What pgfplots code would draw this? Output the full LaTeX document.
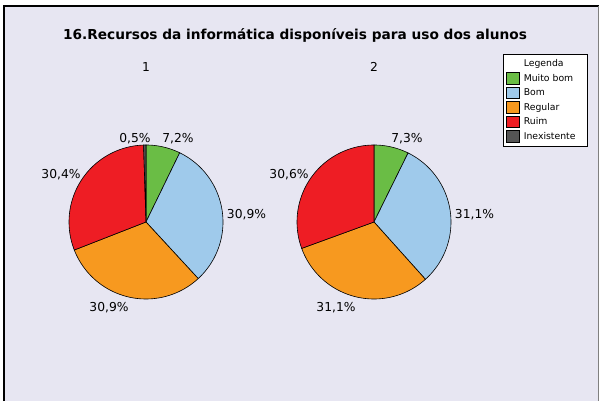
\documentclass[border=0pt]{standalone}
\usepackage{pgfplots}
\pgfplotsset{compat=1.18}
\usepackage{fontspec}
\setmainfont{DejaVu Sans}
\definecolor{bg}{HTML}{E7E6F2}
\definecolor{cgreen}{HTML}{6ABD45}
\definecolor{cblue}{HTML}{9FCAEB}
\definecolor{corange}{HTML}{F7991F}
\definecolor{cred}{HTML}{EE1D24}
\definecolor{cgray}{HTML}{555555}
% #1 centre x, #2 total of the pie, #3 start (cumulative %), #4 value (%), #5 colour, #6 extra
\newcommand\slice[6]{%
  \addplot[fill=#5, draw=black, line width=0.6bp, domain={#3}:{#3+#4}, samples=60, variable=\t, #6]
    ({#1+77*cos(90-360/#2*\t)}, {179+77*sin(90-360/#2*\t)}) -- (#1,179) -- cycle;
}
\newcommand\lbl{\fontsize{12.3bp}{14bp}\selectfont}
\begin{document}
\begin{tikzpicture}
\begin{axis}[
  scale only axis, width=601bp, height=401bp,
  xmin=0, xmax=601, ymin=0, ymax=401,
  hide axis, clip=false,
  legend image code/.code={\draw[#1, line width=0.5bp] (0bp,-5.5bp) rectangle (13bp,6bp);},
  legend style={at={(axis cs:503,347)}, anchor=north west, draw=black, line width=0.6bp, fill=white,
    font=\fontsize{9.3bp}{11bp}\selectfont, inner xsep=2.5bp, inner ysep=2.5bp, row sep=0bp, column sep=3bp,
    nodes={inner xsep=1.5bp, inner ysep=1.75bp, text height=8bp, text depth=3bp}},
  legend cell align=left,
]
\fill[white] (0,0) rectangle (601,401);
\fill[bg] (4,0) rectangle (598.5,395);
\draw[black, line width=1.2bp] (4,0) -- (4,395) -- (598.5,395);
\draw[gray, line width=1bp] (598.5,395) -- (598.5,0);

\addlegendimage{empty legend}
\addlegendentry{Legenda}
% Pie 1: Muito bom 7.2, Bom 30.9, Regular 30.9, Ruim 30.4, Inexistente 0.5
\slice{146}{99.9}{0}{7.2}{cgreen}{}
\addlegendentry{Muito bom}
\slice{146}{99.9}{7.2}{30.9}{cblue}{}
\addlegendentry{Bom}
\slice{146}{99.9}{38.1}{30.9}{corange}{}
\addlegendentry{Regular}
\slice{146}{99.9}{69.0}{30.4}{cred}{}
\addlegendentry{Ruim}
\slice{146}{99.9}{99.4}{0.5}{cgray}{}
\addlegendentry{\makebox[59bp][l]{Inexistente}}
% Pie 2: Muito bom 7.3, Bom 31.1, Regular 31.1, Ruim 30.6
\slice{374}{100.1}{0}{7.3}{cgreen}{forget plot}
\slice{374}{100.1}{7.3}{31.1}{cblue}{forget plot}
\slice{374}{100.1}{38.4}{31.1}{corange}{forget plot}
\slice{374}{100.1}{69.5}{30.6}{cred}{forget plot}

\node[font=\bfseries\fontsize{13.7bp}{16bp}\selectfont] at (295,366) {16.Recursos da informática disponíveis para uso dos alunos};
\node[font=\lbl] at (146,334) {1};
\node[font=\lbl] at (374,334) {2};
\node[font=\lbl] at (135,262) {0,5\%};
\node[font=\lbl] at (178,262) {7,2\%};
\node[font=\lbl] at (246.5,186) {30,9\%};
\node[font=\lbl] at (109,93) {30,9\%};
\node[font=\lbl] at (61,226) {30,4\%};
\node[font=\lbl] at (407,262) {7,3\%};
\node[font=\lbl] at (474.5,186) {31,1\%};
\node[font=\lbl] at (336,93) {31,1\%};
\node[font=\lbl] at (289,226) {30,6\%};
\end{axis}
\end{tikzpicture}
\end{document}
